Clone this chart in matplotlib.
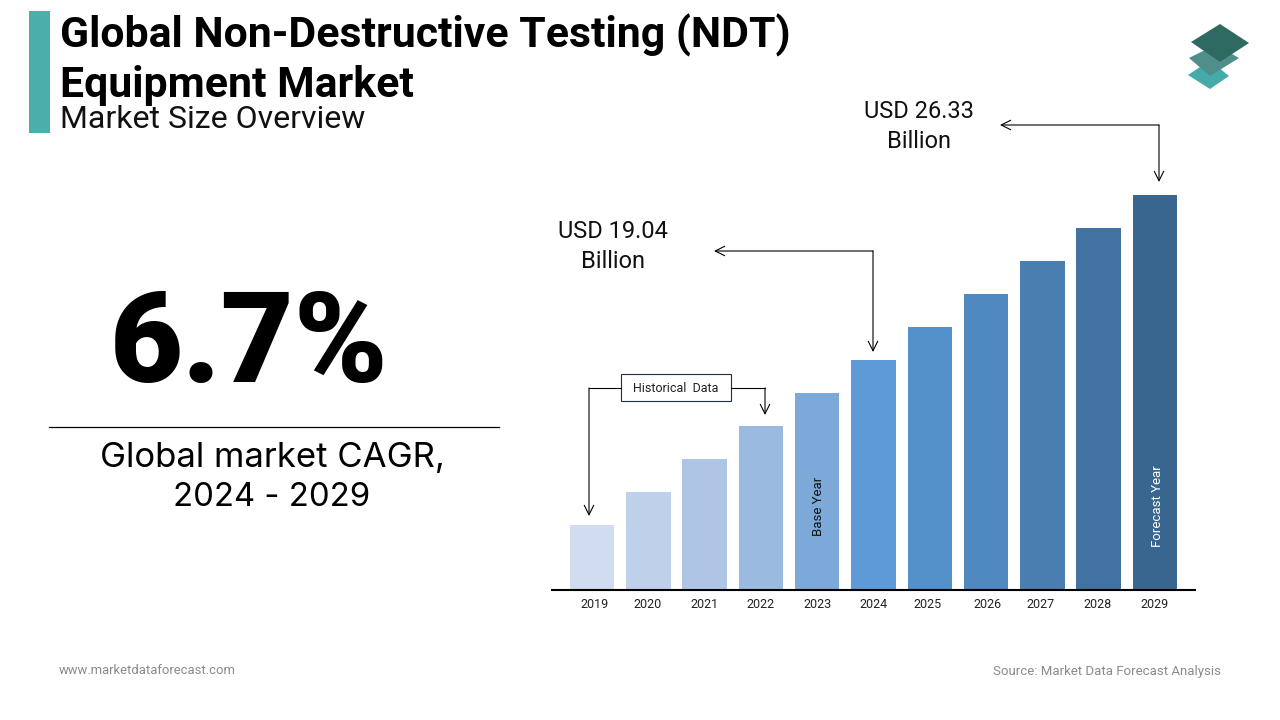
"""
Global NDT equipment market size overview slide.
"""

import matplotlib
matplotlib.use('Agg')
import matplotlib.pyplot as plt
from matplotlib.patches import Polygon, Rectangle
from matplotlib.transforms import ScaledTranslation

years = ['2019', '2020', '2021', '2022', '2023', '2024',
         '2025', '2026', '2027', '2028', '2029']
market_size = [11.75, 13.21, 14.67, 16.12, 17.58, 19.04,
               20.50, 21.96, 23.41, 24.87, 26.33]
bar_colors = ['#D0DCEF', '#BFD0EA', '#AEC5E5', '#9ABAE0', '#7DA9D9', '#5D9AD6',
              '#5491CA', '#4F89BF', '#4A7EB0', '#4272A0', '#39668F']
# the year labels are not quite centred under the bars (pixels)
label_shift = [3, -1, 0, 0, 0, 0, -2, 1, -2, -1, 0]

FONT = 'Roboto'
plt.rcParams['font.family'] = [FONT, 'DejaVu Sans']

fig = plt.figure(figsize=(12.8, 7.2), dpi=100)

# Bar chart, axes placed so the baseline sits at y=590px
ax = fig.add_axes([552 / 1280, 1 - 590 / 720, 643 / 1280, 410 / 720])
positions = list(range(len(years)))
ax.bar(positions, market_size, width=0.79, color=bar_colors)
ax.set_xlim(-40 / 56.3, 603 / 56.3)
ax.set_ylim(8.88, 27.0)
ax.set_yticks([])
ax.set_xticks(positions)
ax.set_xticklabels(years, fontsize=9, color='#222222')
ax.tick_params(axis='x', length=0, pad=6)
for lab, dx in zip(ax.get_xticklabels(), label_shift):
    lab.set_transform(lab.get_transform() + ScaledTranslation(dx / 100, 0, fig.dpi_scale_trans))
for side in ['top', 'left', 'right']:
    ax.spines[side].set_visible(False)
ax.spines['bottom'].set_linewidth(1.5)
ax.text(positions[4] + 0.02, 11.25, 'Base Year', rotation=90, fontsize=9.5,
        ha='center', va='bottom', color='#111111')
ax.text(positions[10] + 0.05, 10.76, 'Forecast Year', rotation=90, fontsize=9.5,
        ha='center', va='bottom', color='white')

# Overlay in pixel coordinates for the slide furniture
ov = fig.add_axes([0, 0, 1, 1], zorder=5)
ov.set_xlim(0, 1280)
ov.set_ylim(720, 0)
ov.axis('off')
ov.patch.set_alpha(0)

ov.add_patch(Rectangle((29, 11), 21, 122, color='#4AAFAB', lw=0))
ov.text(60, 35, 'Global Non-Destructive Testing (NDT)', fontsize=30.75, fontweight='bold',
        va='center', color='black')
ov.text(60, 86, 'Equipment Market', fontsize=30.75, fontweight='bold', va='center', color='black')
ov.text(60, 120, 'Market Size Overview', fontsize=23, va='center', color='#111111')

# Logo
ov.add_patch(Polygon([[1188, 75], [1200, 67], [1218, 67], [1229, 76], [1210, 89]], color='#45ABAA', lw=0))
ov.add_patch(Polygon([[1189, 58], [1205, 50], [1225, 50], [1239, 58], [1210, 76]], color='#4F8E8A', lw=0))
ov.add_patch(Polygon([[1191, 42], [1220, 24], [1249, 43], [1220, 62]], color='#2F6A62', lw=0))

# CAGR block
ov.text(249, 348, '6.7%', fontsize=91, fontweight=900,
        ha='center', va='center', color='black')
ov.plot([49, 499], [427, 427], color='black', lw=0.9)
ov.text(272, 458, 'Global market CAGR,', fontsize=25, family='Inter', ha='center', va='center', color='black')
ov.text(272, 497, '2024 - 2029', fontsize=23.7, family='Inter', ha='center', va='center', color='black')

# Callouts
arrow = dict(arrowstyle='->', color='black', lw=0.8, mutation_scale=17, shrinkA=0, shrinkB=0)
ov.text(919, 112, 'USD 26.33', fontsize=17, ha='center', va='center', color='#111111')
ov.text(919, 141, 'Billion', fontsize=17, ha='center', va='center', color='#111111')
ov.annotate('', xy=(1000, 125), xytext=(1159, 125), arrowprops=arrow)
ov.annotate('', xy=(1159, 182), xytext=(1159, 125), arrowprops=arrow)

ov.text(613, 232, 'USD 19.04', fontsize=17, ha='center', va='center', color='#111111')
ov.text(613, 261, 'Billion', fontsize=17, ha='center', va='center', color='#111111')
ov.annotate('', xy=(714, 251), xytext=(873, 251), arrowprops=arrow)
ov.annotate('', xy=(873, 352), xytext=(873, 251), arrowprops=arrow)

ov.add_patch(Rectangle((621, 374), 110, 27, facecolor='white', edgecolor='#1F3044', lw=0.8))
ov.text(676, 388, 'Historical  Data', fontsize=9, ha='center', va='center', color='#222222')
ov.plot([621, 589], [388, 388], color='black', lw=0.8)
ov.annotate('', xy=(589, 516), xytext=(589, 388), arrowprops=arrow)
ov.plot([731, 765], [388, 388], color='black', lw=0.8)
ov.annotate('', xy=(765, 415), xytext=(765, 388), arrowprops=arrow)

# Footer
ov.text(59, 671, 'www.marketdataforecast.com', fontsize=9.4, va='center', color='#8A8A8A')
ov.text(1221, 671, 'Source: Market Data Forecast Analysis', fontsize=9.5, ha='right', va='center', color='#8A8A8A')

fig.savefig('out.png', dpi=100)
